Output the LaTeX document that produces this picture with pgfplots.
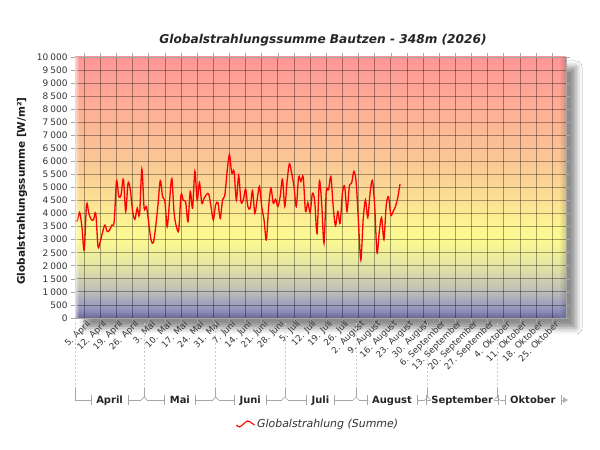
\documentclass[border=0pt]{standalone}
\usepackage{pgfplots}
\pgfplotsset{compat=1.18}
\usepackage{pgfplotstable}
\usepackage{fontspec}
\setmainfont{DejaVu Sans}
\setsansfont{DejaVu Sans}
\usetikzlibrary{shadows.blur}
\definecolor{c0}{RGB}{122,122,172}
\definecolor{c1}{RGB}{150,150,190}
\definecolor{c2}{RGB}{188,188,184}
\definecolor{c3}{RGB}{228,228,165}
\definecolor{c4}{RGB}{252,250,145}
\definecolor{c5}{RGB}{253,245,145}
\definecolor{c6}{RGB}{252,225,148}
\definecolor{c7}{RGB}{250,200,150}
\definecolor{c8}{RGB}{253,175,150}
\definecolor{c9}{RGB}{255,150,150}
\pgfdeclareverticalshading{plotbg}{100bp}{color(0bp)=(c0); color(25bp)=(c0); color(27bp)=(c1); color(30bp)=(c2); color(35bp)=(c3); color(40bp)=(c4); color(42.5bp)=(c5); color(47.5bp)=(c6); color(55bp)=(c7); color(65bp)=(c8); color(75bp)=(c9); color(100bp)=(c9)}
\pgfplotstableread{
d v
0 3750
1 3720
2 4050
3 3500
4 2600
5 4350
6 4010
7 3780
8 3760
9 4010
10 2730
11 2950
12 3300
13 3560
14 3310
15 3370
16 3560
17 3690
18 5250
19 4650
20 4720
21 5320
22 4080
23 5170
24 4910
25 4080
26 3780
27 4210
28 3950
29 5700
30 4210
31 4270
32 3630
33 2990
34 2880
35 3500
36 4330
37 5270
38 4650
39 4460
40 3500
41 4460
42 5350
43 4010
44 3500
45 3370
46 4720
47 4500
48 4450
49 3690
50 4850
51 4210
52 5620
53 4520
54 5190
55 4400
56 4590
57 4720
58 4760
59 4270
60 3760
61 4330
62 4420
63 3820
64 4520
65 4720
66 5620
67 6260
68 5550
69 5620
70 4520
71 5460
72 4460
73 4520
74 4940
75 4270
76 4210
77 4880
78 4010
79 4520
80 5040
81 4270
82 3760
83 2990
84 4270
85 4970
86 4400
87 4550
88 4270
89 4650
90 5320
91 4270
92 5230
93 5910
94 5550
95 5040
96 4270
97 5400
98 5230
99 5400
100 4080
101 4420
102 4040
103 4780
104 4460
105 3240
106 5230
107 4400
108 2860
109 4850
110 4910
111 5420
112 4270
113 3530
114 4080
115 3630
116 4780
117 5040
118 4080
119 5040
120 5170
121 5620
122 5170
123 3630
124 2220
125 3760
126 4520
127 3840
128 4780
129 5270
130 4300
131 2500
132 3300
133 3850
134 3000
135 4300
136 4650
137 3950
138 4080
139 4270
140 4600
141 5140
}\datatable
\newcommand\monthbr[3]{%
  \node[font=\bfseries\fontsize{10}{12}\selectfont, inner xsep=5bp, inner ysep=0pt, text height=7.3bp, text depth=0pt, text=black!85] (M) at ({(#1+#2)/2*1bp}, 50bp) {#3};
  \draw[gray!70, line width=0.6bp] (M.west) ++(0,-5bp) -- ++(0,10bp);
  \draw[gray!70, line width=0.6bp] (M.east) ++(0,-5bp) -- ++(0,10bp);
  \draw[gray!70, line width=0.6bp] ({#1bp+3bp},50bp) -- (M.west);
  \draw[gray!70, line width=0.6bp] (M.east) -- ({#2bp-3bp},50bp);
}
\begin{document}
\begin{tikzpicture}
\useasboundingbox (0,0) rectangle (600bp,450bp);
\fill[white] (0,0) rectangle (600bp,450bp);
\fill[white, blur shadow={shadow xshift=10bp, shadow yshift=-10bp, shadow blur radius=6bp, shadow opacity=45}] (75bp,132bp) rectangle (566bp,393bp);
\begin{axis}[
  at={(75bp,132bp)}, anchor=south west,
  width=491bp, height=261bp, scale only axis,
  xmin=0, xmax=213, ymin=0, ymax=10000,
  axis background/.style={shade, shading=plotbg},
  axis line style={draw=gray!70, line width=0.8bp},
  xtick={4,11,...,207},
  xticklabels={5. April, 12. April, 19. April, 26. April, 3. Mai, 10. Mai, 17. Mai, 24. Mai, 31. Mai, 7. Juni, 14. Juni, 21. Juni, 28. Juni, 5. Juli, 12. Juli, 19. Juli, 26. Juli, 2. August, 9. August, 16. August, 23. August, 30. August, 6. September, 13. September, 20. September, 27. September, 4. Oktober, 11. Oktober, 18. Oktober, 25. Oktober},
  ytick={0,500,...,10000},
  scaled y ticks=false,
  grid=major,
  major grid style={draw=black, draw opacity=0.35, line width=0.8bp},
  tick align=outside, major tick length=4bp,
  tick style={draw=gray!70, line width=0.6bp},
  xticklabel style={rotate=45, anchor=east, xshift=4bp, yshift=-4bp, inner sep=1bp, font=\fontsize{8.7}{9}\selectfont, text=black!80},
  yticklabel style={font=\fontsize{9}{10}\selectfont, text=black!80},
  /pgf/number format/1000 sep={\kern2bp},
  /pgf/number format/assume math mode=true,
  legend style={at={(0.495,-0.406)}, anchor=center, draw=none, fill=none, font=\itshape\fontsize{11}{13}\selectfont, text=black!80},
  legend cell align=left,
  legend image code/.code={\draw[red, line width=1.1bp] plot[smooth, tension=0.7] coordinates {(0bp,-1bp) (3bp,-3bp) (7bp,0bp) (11bp,3bp) (15bp,1bp) (18bp,-1bp)};},
]
\addplot[red, line width=1.3bp, smooth, tension=0.5] table[x=d, y=v] {\datatable};
\addlegendentry{Globalstrahlung (Summe)}
\end{axis}
% bevel strips
\foreach \i in {0,...,5} {
  \fill[black, opacity={0.025*(\i+1)}] ({(560+\i)*1bp},132bp) rectangle ({(561+\i)*1bp},393bp);
  \fill[black, opacity={0.02*(6-\i)}] (75bp,{(132+\i)*1bp}) rectangle (560bp,{(133+\i)*1bp});
}
\foreach \i in {0,...,3} {
  \fill[white, opacity={0.15*(4-\i)}] ({(75+\i)*1bp},132bp) rectangle ({(76+\i)*1bp},393bp);
}
% title and y label
\node[font=\bfseries\itshape\fontsize{12.2}{14}\selectfont, text=black!85] at (323bp,410bp) {Globalstrahlungssumme Bautzen - 348m (2026)};
\node[rotate=90, font=\bfseries\fontsize{10.5}{12}\selectfont, text=black!90] at (22bp,259bp) {Globalstrahlungssumme [W/m²]};
% month boundaries
\foreach \x in {75,144.15,215.6,284.8,356.2,427.7,496.8} {
  \draw[gray!40, dash pattern=on 2bp off 2bp, line width=0.5bp] (\x bp,127bp) -- (\x bp,62bp);
}
\foreach \x in {144.15,215.6,284.8,356.2,427.7,496.8} {
  \draw[gray!70, line width=0.6bp] (\x bp,62bp) -- (\x bp,53bp);
  \draw[gray!70, line width=0.6bp] ({\x bp-3bp},50bp) -- (\x bp,53bp) -- ({\x bp+3bp},50bp);
}
\draw[gray!70, line width=0.6bp] (75bp,62bp) -- (75bp,50bp) -- (78bp,50bp);
\monthbr{75}{144.15}{April}
\monthbr{144.15}{215.6}{Mai}
\monthbr{215.6}{284.8}{Juni}
\monthbr{284.8}{356.2}{Juli}
\monthbr{356.2}{427.7}{August}
\monthbr{427.7}{496.8}{September}
\monthbr{496.8}{569}{Oktober}
\fill[gray!60] (563bp,47bp) -- (568bp,50bp) -- (563bp,53bp) -- cycle;
\end{tikzpicture}
\end{document}
